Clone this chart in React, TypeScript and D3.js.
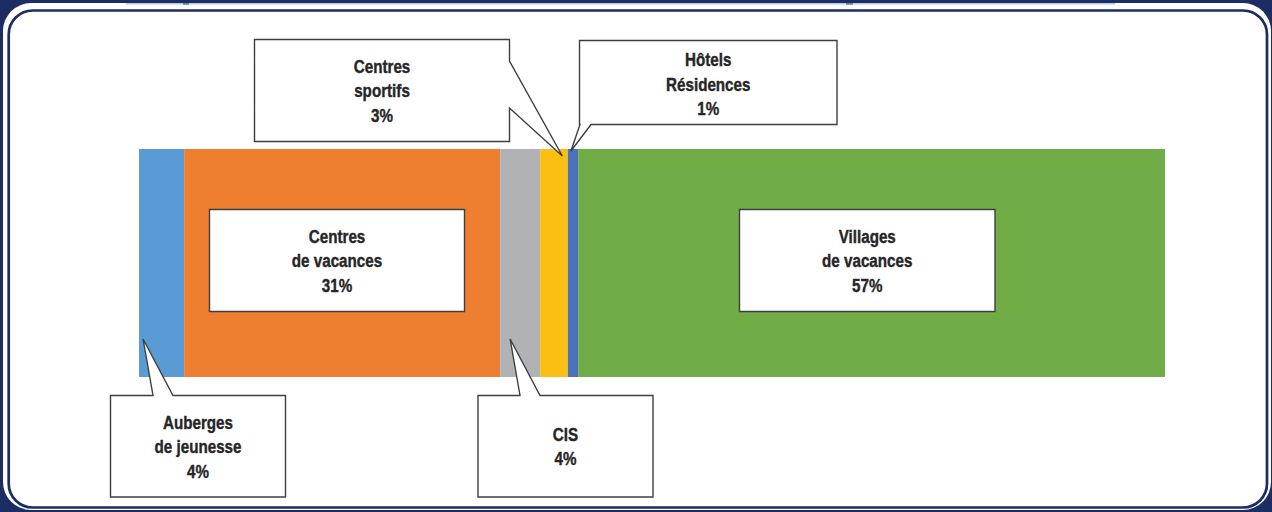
import React from "react";
import * as d3 from "d3";

// ---- data ----
const categories = [
  "Auberges de jeunesse",
  "Centres de vacances",
  "CIS",
  "Centres sportifs",
  "Hôtels Résidences",
  "Villages de vacances",
];
const shares = [4.4, 30.8, 3.9, 2.7, 1.0, 57.2];
const shareLabels = ["4%", "31%", "4%", "3%", "1%", "57%"];
const labelLines = [
  ["Auberges", "de jeunesse"],
  ["Centres", "de vacances"],
  ["CIS"],
  ["Centres", "sportifs"],
  ["Hôtels", "Résidences"],
  ["Villages", "de vacances"],
];
const colors = ["#5B9BD5", "#EE7E30", "#B1B2B5", "#FBBE12", "#4A72BA", "#70AD47"];

// ---- layout (callout boxes) ----
type Callout = {
  x0: number; x1: number; y0: number; y1: number;
  pointer: null | { side: "top" | "right" | "bottomLeft"; a: number; b: number; tipFrac: number; tipDy: number; atTop: boolean };
  dy?: number;
};
const callouts: Callout[] = [
  { x0: 110.5, x1: 285.5, y0: 395.5, y1: 497, pointer: { side: "top", a: 153, b: 173, tipFrac: 0.09, tipDy: -38, atTop: false } },
  { x0: 209.5, x1: 464.5, y0: 209.5, y1: 311.5, pointer: null },
  { x0: 478, x1: 653, y0: 395.5, y1: 497, pointer: { side: "top", a: 520, b: 540, tipFrac: 0.25, tipDy: -38, atTop: false } },
  { x0: 254.5, x1: 509.5, y0: 39.5, y1: 141.5, pointer: { side: "right", a: 61, b: 108, tipFrac: 0.8, tipDy: 7, atTop: true } },
  { x0: 579.5, x1: 837, y0: 40.5, y1: 124.5, pointer: { side: "bottomLeft", a: 580, b: 591, tipFrac: 0.3, tipDy: 2, atTop: true }, dy: 1.5 },
  { x0: 739.5, x1: 995, y0: 209.5, y1: 311.5, pointer: null },
];

const W = 1272;
const H = 512;
const barX0 = 139;
const barX1 = 1165;
const barY0 = 149;
const barY1 = 377;
const navy = "#1C2D63";
const squeeze = 0.8;

export default function App() {
  const total = d3.sum(shares);
  const x = d3.scaleLinear().domain([0, total]).range([barX0, barX1]);
  const cum = d3.cumsum(shares);
  const starts = shares.map((v, i) => cum[i] - v);

  const segs = shares.map((v, i) => ({
    x0: x(starts[i]),
    x1: x(cum[i]),
    color: colors[i],
    name: categories[i],
  }));

  const lineH = 24.5;

  return (
    <div style={{ position: "fixed", left: 0, top: 0, width: W, height: H }}>
      <svg width={W} height={H} style={{ display: "block" }}>
        <rect x={0} y={0} width={W} height={H} fill={navy} />
        <rect x={3} y={3} width={1268} height={507} rx={28} ry={28} fill="#ffffff" />
        <rect x={126} y={3} width={989} height={1.6} fill="#B9CDE2" />
        <rect x={183} y={3} width={6} height={1.8} fill="#5C8DB8" />
        <rect x={846} y={3} width={7} height={1.8} fill="#5C8DB8" />
        <rect x={8.7} y={10.5} width={1258.3} height={497} rx={24} ry={24} fill="none" stroke={navy} strokeWidth={2.7} />

        {segs.map((s, i) => (
          <rect key={i} x={s.x0} y={barY0} width={s.x1 - s.x0} height={barY1 - barY0} fill={s.color} />
        ))}

        {callouts.map((c, i) => {
          const seg = segs[i];
          let d: string;
          const p = c.pointer;
          if (!p) {
            d = `M${c.x0},${c.y0}H${c.x1}V${c.y1}H${c.x0}Z`;
          } else {
            const tx = seg.x0 + p.tipFrac * (seg.x1 - seg.x0);
            const ty = (p.atTop ? barY0 : barY1) + p.tipDy;
            if (p.side === "top") {
              d = `M${c.x0},${c.y0}H${p.a}L${tx},${ty}L${p.b},${c.y0}H${c.x1}V${c.y1}H${c.x0}Z`;
            } else if (p.side === "right") {
              d = `M${c.x0},${c.y0}H${c.x1}V${p.a}L${tx},${ty}L${c.x1},${p.b}V${c.y1}H${c.x0}Z`;
            } else {
              d = `M${c.x0},${c.y0}H${c.x1}V${c.y1}H${p.b}L${tx},${ty}L${p.a},${c.y1}H${c.x0}Z`;
            }
          }
          const lines = [...labelLines[i], shareLabels[i]];
          const cx = (c.x0 + c.x1) / 2;
          const cy = (c.y0 + c.y1) / 2 + (c.dy || 0);
          return (
            <g key={i}>
              <path d={d} fill="#ffffff" stroke="#3F3F3F" strokeWidth={1.4} strokeLinejoin="miter" />
              <g transform={`translate(${cx},0) scale(${squeeze},1)`}>
                <text
                  textAnchor="middle"
                  fontFamily="'Liberation Sans', Arial, sans-serif"
                  fontWeight="bold"
                  fontSize={19}
                  fill="#262626"
                  stroke="#262626"
                  strokeWidth={0.4}
                >
                  {lines.map((t, j) => (
                    <tspan key={j} x={0} y={cy + (j - (lines.length - 1) / 2) * lineH + 7}>
                      {t}
                    </tspan>
                  ))}
                </text>
              </g>
            </g>
          );
        })}
      </svg>
    </div>
  );
}
